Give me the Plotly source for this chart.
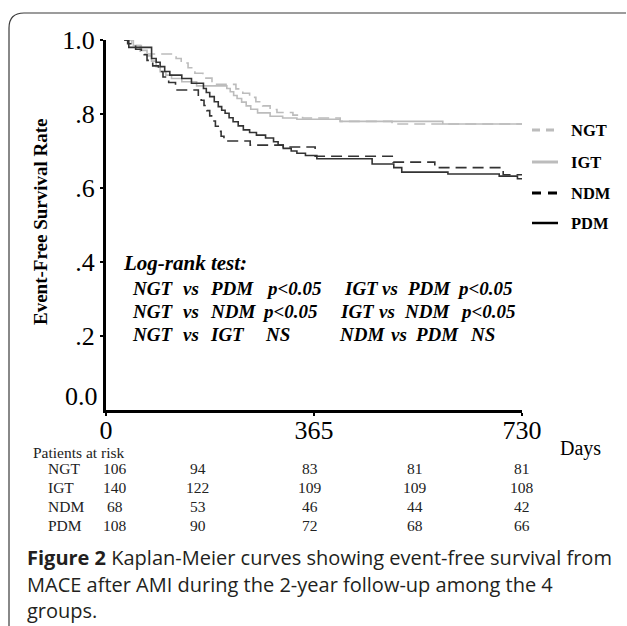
import plotly.graph_objects as go

# ---------------- data ----------------
groups = ["NGT", "IGT", "NDM", "PDM"]

ngt_days = [32, 45, 60, 123, 132, 144, 156, 170, 186, 228, 240, 252, 263, 275, 288, 300, 328, 345, 411, 502, 730]
ngt_surv = [1.0, 0.985, 0.962, 0.95, 0.938, 0.925, 0.91, 0.897, 0.88, 0.868, 0.856, 0.845, 0.833, 0.822, 0.812, 0.804, 0.797, 0.789, 0.780, 0.773, 0.773]

igt_days = [32, 48, 62, 72, 80, 88, 95, 105, 115, 133, 159, 212, 218, 224, 230, 238, 246, 254, 266, 288, 310, 335, 411, 591, 730]
igt_surv = [1.0, 0.985, 0.972, 0.957, 0.943, 0.928, 0.914, 0.905, 0.896, 0.887, 0.876, 0.869, 0.86, 0.85, 0.842, 0.832, 0.822, 0.813, 0.803, 0.794, 0.789, 0.786, 0.780, 0.773, 0.773]

ndm_days = [32, 38, 52, 62, 72, 82, 92, 100, 110, 122, 162, 167, 172, 177, 182, 187, 192, 197, 202, 207, 214, 253, 311, 367, 504, 577, 697, 730]
ndm_surv = [1.0, 0.99, 0.975, 0.96, 0.945, 0.93, 0.915, 0.9, 0.885, 0.865, 0.851, 0.837, 0.823, 0.809, 0.795, 0.781, 0.767, 0.753, 0.74, 0.733, 0.727, 0.716, 0.711, 0.686, 0.670, 0.655, 0.636, 0.636]

pdm_days = [32, 40, 80, 88, 95, 103, 112, 133, 150, 171, 176, 182, 190, 197, 203, 209, 216, 223, 232, 241, 252, 264, 280, 294, 302, 311, 325, 335, 350, 370, 467, 505, 519, 600, 690, 722, 730]
pdm_surv = [1.0, 0.98, 0.95, 0.94, 0.928, 0.915, 0.905, 0.896, 0.883, 0.869, 0.858, 0.847, 0.833, 0.82, 0.81, 0.802, 0.79, 0.779, 0.768, 0.757, 0.75, 0.743, 0.735, 0.725, 0.716, 0.707, 0.700, 0.694, 0.688, 0.679, 0.665, 0.655, 0.643, 0.638, 0.632, 0.625, 0.625]

x_tick_vals = [0, 365, 730]
y_tick_vals = [0.2, 0.4, 0.6, 0.8, 1.0]
y_tick_text = [".2", ".4", ".6", ".8", "1.0"]

risk_times = [0, 182, 365, 547, 730]
risk_ngt = [106, 94, 83, 81, 81]
risk_igt = [140, 122, 109, 109, 108]
risk_ndm = [68, 53, 46, 44, 42]
risk_pdm = [108, 90, 72, 68, 66]

logrank_rows = [
    [("NGT", 130), ("vs", 181), ("PDM", 208), ("p<0.05", 264), ("IGT", 342), ("vs", 380), ("PDM", 405), ("p<0.05", 455)],
    [("NGT", 130), ("vs", 181), ("NDM", 208), ("p<0.05", 260), ("IGT", 338), ("vs", 377), ("NDM", 402), ("p<0.05", 458)],
    [("NGT", 130), ("vs", 181), ("IGT", 208), ("NS", 263), ("NDM", 337), ("vs", 389), ("PDM", 413), ("NS", 468)],
]

caption_lines = [
    "<b>Figure 2</b> Kaplan-Meier curves showing event-free survival from",
    "MACE after AMI during the 2-year follow-up among the 4",
    "groups.",
]

# ---------------- geometry helpers ----------------
W, H = 627, 626
ML, MR, MT, MB = 106, 105, 40, 216
PW = W - ML - MR
PH = H - MT - MB


def px(x):
    return (x - ML) / PW


def py(y):
    return (H - MB - y) / PH


SERIF = "Liberation Serif, Times New Roman, serif"
LIGHT = "#bcbcbc"
DARK = "#333333"

styles = {
    "NGT": dict(color=LIGHT, width=1.6, dash="11px,6px"),
    "IGT": dict(color=LIGHT, width=1.6, dash="solid"),
    "NDM": dict(color=DARK, width=1.6, dash="11px,6px"),
    "PDM": dict(color=DARK, width=1.6, dash="solid"),
}

series = {
    "NGT": (ngt_days, ngt_surv),
    "IGT": (igt_days, igt_surv),
    "NDM": (ndm_days, ndm_surv),
    "PDM": (pdm_days, pdm_surv),
}

fig = go.Figure()
for g in groups:
    d, s = series[g]
    fig.add_trace(go.Scatter(x=d, y=s, mode="lines", line_shape="hv",
                             line=styles[g], name=g, cliponaxis=False,
                             hoverinfo="skip"))

annotations = []
shapes = []

# y-axis "0.0" label (drawn above the corner as in the reference)
annotations.append(dict(x=0, y=0, xref="x", yref="y", text="0.0", showarrow=False,
                        xanchor="right", yanchor="middle", xshift=-6, yshift=14,
                        font=dict(family=SERIF, size=26, color="black")))

# y-axis title
annotations.append(dict(x=px(40), y=py(222), xref="paper", yref="paper",
                        text="<b>Event-Free Survival Rate</b>", textangle=-90,
                        showarrow=False, xanchor="center", yanchor="middle",
                        font=dict(family=SERIF, size=19, color="black")))

# legend
legend_y = {"NGT": 130, "IGT": 162, "NDM": 193, "PDM": 223}
legend_line = {
    "NGT": dict(color=LIGHT, width=3, dash="8px,6px"),
    "IGT": dict(color=LIGHT, width=3, dash="solid"),
    "NDM": dict(color="black", width=3, dash="9px,7px"),
    "PDM": dict(color="black", width=2.5, dash="solid"),
}
for g in groups:
    yy = legend_y[g]
    shapes.append(dict(type="line", xref="paper", yref="paper",
                       x0=px(532), x1=px(558), y0=py(yy), y1=py(yy),
                       line=legend_line[g]))
    annotations.append(dict(x=px(569), y=py(yy), xref="paper", yref="paper",
                            text="<b>%s</b>" % g, showarrow=False,
                            xanchor="left", yanchor="middle",
                            font=dict(family=SERIF, size=16.5, color="black")))

# log-rank text
annotations.append(dict(x=px(121), y=py(263), xref="paper", yref="paper",
                        text="<b><i>Log-rank test:</i></b>", showarrow=False,
                        xanchor="left", yanchor="middle",
                        font=dict(family=SERIF, size=21, color="black")))
row_y = [288, 311, 334]
for r, words in enumerate(logrank_rows):
    for text, xx in words:
        annotations.append(dict(x=px(xx), y=py(row_y[r]), xref="paper", yref="paper",
                                text="<b><i>%s</i></b>" % text, showarrow=False,
                                xanchor="left", yanchor="middle",
                                font=dict(family=SERIF, size=19, color="black")))

# Days label
annotations.append(dict(x=px(558), y=py(448), xref="paper", yref="paper",
                        text="Days", showarrow=False, xanchor="left", yanchor="middle",
                        font=dict(family=SERIF, size=20, color="black")))

# Patients at risk table
annotations.append(dict(x=px(31), y=py(452), xref="paper", yref="paper",
                        text="Patients at risk", showarrow=False, xanchor="left",
                        yanchor="middle", font=dict(family=SERIF, size=15.5, color="#222")))
risk_rows = {"NGT": risk_ngt, "IGT": risk_igt, "NDM": risk_ndm, "PDM": risk_pdm}
risk_row_y = {"NGT": 468, "IGT": 487, "NDM": 506, "PDM": 525}
col_shift = [9, -12, -4, -3, 0]
for g in groups:
    yy = risk_row_y[g]
    annotations.append(dict(x=px(46), y=py(yy), xref="paper", yref="paper",
                            text=g, showarrow=False, xanchor="left", yanchor="middle",
                            font=dict(family=SERIF, size=15.5, color="#222")))
    for i, (t, v) in enumerate(zip(risk_times, risk_rows[g])):
        annotations.append(dict(x=t, y=py(yy), xref="x", yref="paper",
                                text=str(v), showarrow=False, xanchor="center",
                                yanchor="middle", xshift=col_shift[i],
                                font=dict(family=SERIF, size=15.5, color="#222")))

# caption
cap_y = [557, 584, 610]
for line, yy in zip(caption_lines, cap_y):
    annotations.append(dict(x=px(25), y=py(yy), xref="paper", yref="paper",
                            text=line, showarrow=False, xanchor="left", yanchor="middle",
                            font=dict(family="Open Sans, sans-serif", size=20, color="#231f20")))

# frame (rounded top-left corner)
shapes.append(dict(type="path", xref="paper", yref="paper",
                   path="M %f,%f L %f,%f Q %f,%f %f,%f L %f,%f" % (
                       px(9), py(626), px(9), py(28), px(9), py(13), px(24), py(13), px(626), py(13)),
                   line=dict(color="#3a3a3a", width=1.2)))

fig.update_layout(
    width=W, height=H,
    margin=dict(l=ML, r=MR, t=MT, b=MB, pad=0),
    paper_bgcolor="white", plot_bgcolor="white",
    showlegend=False,
    xaxis=dict(range=[0, 730], tickvals=x_tick_vals, ticktext=[str(v) for v in x_tick_vals],
               showline=True, linecolor="black", linewidth=3, ticks="outside",
               ticklen=3, tickwidth=2, tickcolor="black", showgrid=False, zeroline=False,
               ticklabelstandoff=-8,
               tickfont=dict(family=SERIF, size=26, color="black")),
    yaxis=dict(range=[0, 1.0], tickvals=y_tick_vals, ticktext=y_tick_text,
               showline=True, linecolor="black", linewidth=3, ticks="outside",
               ticklen=3, tickwidth=2, tickcolor="black", showgrid=False, zeroline=False,
               tickfont=dict(family=SERIF, size=26, color="black")),
    annotations=annotations,
    shapes=shapes,
)

fig.write_html("out.html", config={"displayModeBar": False},
               post_script="document.body.style.margin='0px';document.body.style.overflow='hidden';")
